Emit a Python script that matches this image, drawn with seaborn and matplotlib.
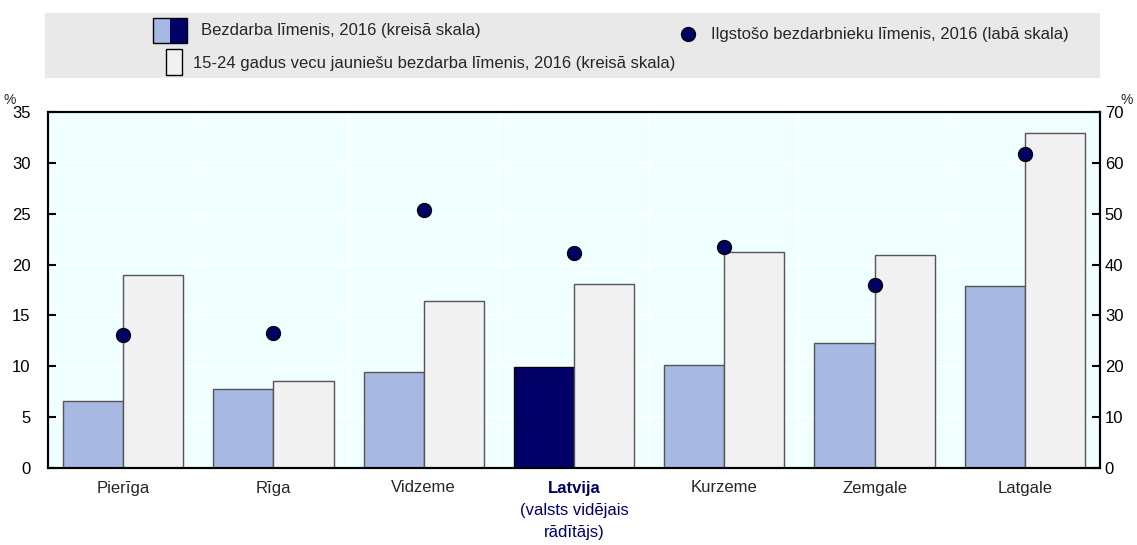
import pandas as pd
import seaborn as sns
import matplotlib.pyplot as plt
from matplotlib.patches import Rectangle
from matplotlib.lines import Line2D
from matplotlib.ticker import MultipleLocator

# values
regions = ['Pierīga', 'Rīga', 'Vidzeme', 'Latvija', 'Kurzeme', 'Zemgale', 'Latgale']
unemployment = [6.6, 7.8, 9.4, 9.9, 10.1, 12.3, 17.9]
youth_unemployment = [19.0, 8.6, 16.4, 18.1, 21.2, 20.9, 32.9]
long_term = [26.2, 26.6, 50.8, 42.2, 43.5, 36.0, 61.8]

series_names = ['Bezdarba līmenis, 2016 (kreisā skala)',
                '15-24 gadus vecu jauniešu bezdarba līmenis, 2016 (kreisā skala)']
dot_label = 'Ilgstošo bezdarbnieku līmenis, 2016 (labā skala)'

light_blue = '#A7B9E3'
navy = '#000066'
pale = '#F1F1F1'
bg = '#F0FFFF'

df = pd.DataFrame({
    'region': regions * 2,
    'series': [series_names[0]] * len(regions) + [series_names[1]] * len(regions),
    'value': unemployment + youth_unemployment,
})

sns.set_style('white', {'axes.facecolor': bg})
plt.rcParams['font.family'] = ['Liberation Sans', 'DejaVu Sans']

fig = plt.figure(figsize=(11.37, 5.45), dpi=100)
ax = fig.add_axes([48 / 1137, 1 - 468 / 545, 1052 / 1137, 356 / 545])

sns.barplot(data=df, x='region', y='value', hue='series', order=regions,
            hue_order=series_names, palette=[light_blue, pale], saturation=1,
            width=0.8, edgecolor='#555555', linewidth=1, legend=False, ax=ax)
# national average bar in dark blue
ax.containers[0][regions.index('Latvija')].set_facecolor(navy)
ax.containers[0][regions.index('Latvija')].set_edgecolor('black')

ax.set_xlim(-0.5, len(regions) - 0.5)
ax.set_ylim(0, 35)
ax.yaxis.set_major_locator(MultipleLocator(5))
ax.set_xlabel('')
ax.set_ylabel('')
ax.xaxis.set_minor_locator(MultipleLocator(1, offset=0.5))
ax.grid(True, which='major', axis='y', color='white', linewidth=1.2)
ax.grid(True, which='minor', axis='x', color='white', linewidth=1.2)
ax.set_axisbelow(True)
ax.tick_params(axis='y', direction='in', length=6, width=1.5, pad=12.5,
               labelsize=12, colors='black', left=True)
ax.tick_params(axis='x', which='both', length=0, pad=9, labelsize=12)
for s in ax.spines.values():
    s.set_color('black')
    s.set_linewidth(1.5)

ax2 = ax.twinx()
sns.stripplot(x=regions, y=long_term, order=regions, jitter=False, size=10,
              color=navy, edgecolor='black', linewidth=1, ax=ax2)
ax2.set_xlim(-0.5, len(regions) - 0.5)
ax2.set_ylim(0, 70)
ax2.yaxis.set_major_locator(MultipleLocator(10))
ax2.tick_params(axis='y', direction='in', length=6, width=1.5, pad=3.5,
                labelsize=12, colors='black', right=True)
for s in ax2.spines.values():
    s.set_color('black')
    s.set_linewidth(1.5)

# x tick labels, Latvija highlighted
ax.set_xticks(range(len(regions)))
ax.set_xticklabels(regions)
lat = ax.get_xticklabels()[regions.index('Latvija')]
lat.set_fontweight('bold')
lat.set_color(navy)
ax.text(regions.index('Latvija'), -0.097, '(valsts vidējais\nrādītājs)',
        transform=ax.get_xaxis_transform(), ha='center', va='top',
        fontsize=12, color=navy, linespacing=1.65)

fig.text(10 / 1137, 1 - 100 / 545, '%', fontsize=10, ha='center', va='center')
fig.text(1127 / 1137, 1 - 100 / 545, '%', fontsize=10, ha='center', va='center')

# legend panel
W, H = 1137, 545


def fx(px):
    return px / W


def fy(py):
    return 1 - py / H


fig.patches.append(Rectangle((fx(45), fy(78)), fx(1055), 65 / H,
                             transform=fig.transFigure, facecolor='#E9E9E9',
                             edgecolor='none', zorder=0))
fig.patches.append(Rectangle((fx(153), fy(43)), 17 / W, 25 / H,
                             transform=fig.transFigure, facecolor=light_blue,
                             edgecolor='none', zorder=1))
fig.patches.append(Rectangle((fx(170), fy(43)), 17 / W, 25 / H,
                             transform=fig.transFigure, facecolor=navy,
                             edgecolor='none', zorder=1))
fig.patches.append(Rectangle((fx(153), fy(43)), 34 / W, 25 / H,
                             transform=fig.transFigure, facecolor='none',
                             edgecolor='black', linewidth=1, zorder=2))
fig.patches.append(Rectangle((fx(166), fy(75)), 16 / W, 26 / H,
                             transform=fig.transFigure, facecolor=pale,
                             edgecolor='black', linewidth=1, zorder=1))
fig.lines.append(Line2D([fx(688)], [fy(34)], transform=fig.transFigure,
                        marker='o', markersize=10, markerfacecolor=navy,
                        markeredgecolor='black', markeredgewidth=1, linestyle='none'))
fig.text(fx(201), fy(31), series_names[0], fontsize=12, va='center')
fig.text(fx(193), fy(63), series_names[1], fontsize=12, va='center')
fig.text(fx(711), fy(34), dot_label, fontsize=12, va='center')

fig.savefig('out.png', dpi=100)
